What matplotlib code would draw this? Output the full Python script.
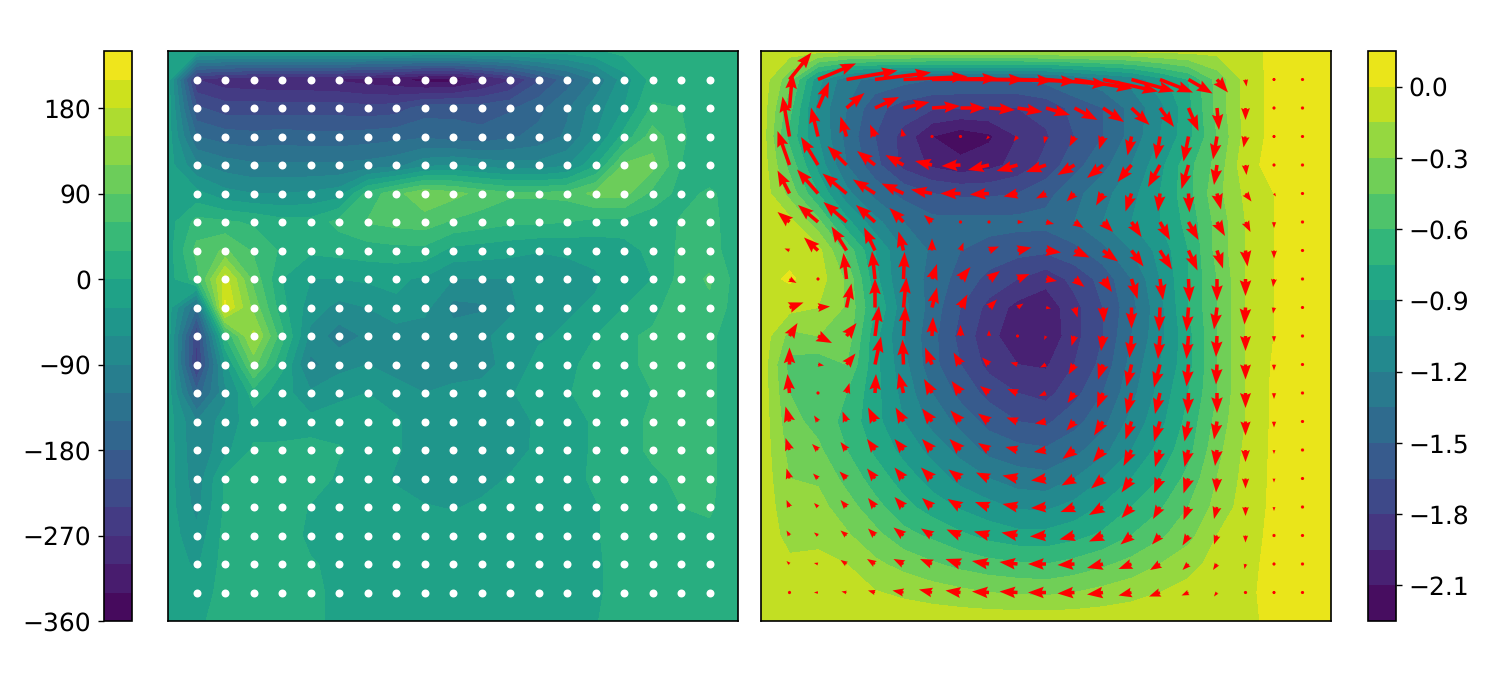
import numpy as np
import matplotlib
matplotlib.use('Agg')
import matplotlib.pyplot as plt

# left field, rows run from top to bottom
vort = [
    [-15, -15, -15, -15, -15, -15, -15, -15, -15, -15, -15, -15, -15, -15, -15, -5, 10, 12, 15, 15, 15],
    [-15, -270, -290, -295, -298, -300, -305, -315, -325, -345, -345, -310, -275, -215, -165, -115, -45, 10, 10, 10, 15],
    [-15, -205, -225, -225, -225, -225, -225, -230, -225, -195, -190, -195, -185, -160, -125, -75, -30, 35, 30, 10, 15],
    [-15, -150, -165, -170, -165, -170, -170, -165, -160, -155, -165, -170, -155, -140, -115, -60, 10, 75, 35, 10, 15],
    [-15, -85, -105, -115, -115, -115, -115, -110, -100, -70, -60, -70, -80, -80, -65, -5, 95, 100, 30, 10, 15],
    [-15, -20, -50, -60, -60, -55, -45, 40, 80, 115, 100, 80, 65, 65, 70, 100, 100, 50, 20, 35, 15],
    [-15, 40, 35, 25, 10, 10, 40, 62, 70, 75, 55, 45, 35, 35, 30, 20, 20, 10, 33, 38, 15],
    [-15, 70, 95, 55, 25, 5, 10, 15, 20, 20, -10, -15, -20, -28, -25, -20, -15, 10, 35, 40, 15],
    [-15, 45, 195, 80, 0, -30, -30, -25, -25, -35, -60, -60, -60, -55, -45, -35, -10, 0, 40, 65, 15],
    [-15, -150, 215, 110, 10, -45, -70, -60, -35, -50, -100, -95, -65, -45, -35, -25, 0, 20, 50, 52, 15],
    [-15, -240, 30, 160, 40, -70, -105, -85, -80, -80, -75, -65, -50, -35, -25, 0, 25, 35, 30, 35, 15],
    [-15, -250, -40, 100, 5, -100, -70, -60, -75, -70, -70, -70, -50, -20, -10, 15, 25, 35, 35, 35, 15],
    [-15, -170, -70, 15, -15, -55, -40, -30, -45, -60, -55, -50, -35, -5, -2, 10, 20, 30, 35, 35, 15],
    [-15, -90, -45, -15, -25, -20, -10, -5, -25, -50, -50, -50, -45, -25, -15, 5, 20, 35, 35, 35, 15],
    [-15, -85, -40, 5, 10, 15, 2, -8, -25, -50, -50, -45, -40, -25, -15, 5, 20, 35, 35, 35, 15],
    [-15, -80, 5, 15, 15, 15, -5, -10, -35, -45, -45, -40, -28, -20, -10, 5, 15, 25, 35, 35, 15],
    [-15, -70, 5, 15, 15, -2, -5, -10, -15, -28, -32, -25, -20, -15, -10, -2, 10, 20, 30, 33, 15],
    [-15, -50, 10, 15, 12, -5, -10, -15, -15, -15, -15, -15, -15, -12, -10, -2, 10, 15, 15, 25, 15],
    [-15, -35, 12, 15, 12, 2, -5, -10, -10, -10, -10, -10, -10, -10, -8, -3, 8, 12, 15, 15, 15],
    [-15, -15, 10, 15, 12, 5, -5, -8, -8, -8, -8, -8, -8, -8, -8, -3, 8, 12, 15, 15, 15],
    [-15, -5, 10, 12, 10, 5, -5, -5, -5, -5, -5, -5, -5, -5, -5, -1, 8, 10, 12, 15, 15],
]

# right field, rows run from top to bottom
psi = [
    [-0.05, -0.08, -0.1, -0.12, -0.12, -0.12, -0.12, -0.12, -0.12, -0.12, -0.12, -0.12, -0.12, -0.12, -0.1, -0.1, -0.1, -0.08, 0.05, 0.05, 0.05],
    [-0.05, -0.4, -1.0, -1.3, -1.4, -1.45, -1.5, -1.5, -1.5, -1.5, -1.45, -1.35, -1.25, -1.15, -0.95, -0.75, -0.4, -0.1, 0.05, 0.05, 0.05],
    [-0.05, -0.55, -1.1, -1.35, -1.6, -1.72, -1.78, -1.8, -1.8, -1.8, -1.75, -1.6, -1.5, -1.3, -1.1, -0.8, -0.4, -0.1, 0.05, 0.05, 0.05],
    [-0.05, -0.65, -1.05, -1.4, -1.65, -1.85, -2.1, -2.2, -2.13, -1.95, -1.82, -1.65, -1.5, -1.3, -1.05, -0.8, -0.45, -0.1, 0.05, 0.05, 0.05],
    [-0.05, -0.5, -0.95, -1.35, -1.6, -1.85, -1.98, -2.05, -2.0, -1.9, -1.75, -1.55, -1.4, -1.2, -0.95, -0.65, -0.4, -0.05, 0.05, 0.05, 0.05],
    [-0.05, -0.35, -0.75, -1.15, -1.4, -1.55, -1.65, -1.68, -1.68, -1.65, -1.55, -1.4, -1.25, -1.1, -0.9, -0.65, -0.35, -0.12, 0.0, 0.05, 0.05],
    [-0.05, -0.1, -0.4, -0.85, -1.15, -1.35, -1.45, -1.45, -1.45, -1.45, -1.45, -1.35, -1.2, -1.05, -0.9, -0.7, -0.4, -0.15, 0.0, 0.05, 0.05],
    [-0.05, -0.05, -0.1, -0.5, -0.9, -1.2, -1.38, -1.5, -1.55, -1.6, -1.62, -1.55, -1.4, -1.2, -1.0, -0.75, -0.4, -0.15, 0.0, 0.05, 0.05],
    [-0.05, 0.02, -0.07, -0.33, -0.85, -1.2, -1.42, -1.55, -1.7, -1.8, -1.9, -1.75, -1.6, -1.35, -1.05, -0.75, -0.45, -0.15, 0.0, 0.05, 0.05],
    [-0.05, -0.1, -0.15, -0.32, -0.75, -1.15, -1.42, -1.65, -1.85, -2.0, -2.05, -1.85, -1.65, -1.4, -1.1, -0.75, -0.45, -0.15, 0.0, 0.05, 0.05],
    [-0.05, -0.35, -0.3, -0.35, -0.85, -1.2, -1.45, -1.7, -1.9, -2.05, -2.08, -1.85, -1.65, -1.35, -1.1, -0.8, -0.45, -0.15, 0.0, 0.05, 0.05],
    [-0.05, -0.5, -0.55, -0.45, -0.85, -1.15, -1.45, -1.65, -1.85, -1.95, -1.97, -1.8, -1.6, -1.3, -1.05, -0.8, -0.45, -0.15, 0.02, 0.05, 0.05],
    [-0.05, -0.45, -0.55, -0.6, -0.85, -1.1, -1.35, -1.55, -1.7, -1.8, -1.85, -1.7, -1.5, -1.25, -1.0, -0.75, -0.45, -0.15, 0.03, 0.05, 0.05],
    [-0.05, -0.4, -0.5, -0.65, -0.85, -1.05, -1.25, -1.4, -1.55, -1.65, -1.68, -1.55, -1.4, -1.15, -0.95, -0.7, -0.4, -0.15, 0.03, 0.05, 0.05],
    [-0.05, -0.35, -0.42, -0.6, -0.78, -0.95, -1.1, -1.25, -1.4, -1.45, -1.48, -1.4, -1.25, -1.05, -0.85, -0.65, -0.35, -0.12, 0.03, 0.05, 0.05],
    [-0.05, -0.3, -0.32, -0.5, -0.67, -0.82, -0.97, -1.1, -1.2, -1.28, -1.3, -1.2, -1.05, -0.9, -0.75, -0.55, -0.3, -0.1, 0.03, 0.05, 0.05],
    [-0.05, -0.25, -0.25, -0.38, -0.55, -0.7, -0.82, -0.92, -1.0, -1.07, -1.08, -1.0, -0.88, -0.75, -0.62, -0.45, -0.25, -0.08, 0.03, 0.05, 0.05],
    [-0.05, -0.2, -0.18, -0.28, -0.4, -0.55, -0.63, -0.72, -0.8, -0.85, -0.85, -0.8, -0.72, -0.6, -0.48, -0.35, -0.15, -0.05, 0.03, 0.05, 0.05],
    [-0.05, -0.12, -0.12, -0.15, -0.27, -0.35, -0.43, -0.5, -0.55, -0.58, -0.6, -0.55, -0.48, -0.4, -0.3, -0.2, -0.1, -0.03, 0.03, 0.05, 0.05],
    [-0.05, -0.08, -0.1, -0.12, -0.14, -0.18, -0.22, -0.26, -0.3, -0.32, -0.33, -0.3, -0.25, -0.2, -0.15, -0.1, -0.05, -0.02, 0.03, 0.05, 0.05],
    [-0.05, -0.05, -0.05, -0.05, -0.05, -0.05, -0.05, -0.05, -0.05, -0.05, -0.05, -0.05, -0.05, -0.05, -0.05, -0.05, -0.05, -0.05, 0.05, 0.05, 0.05],
]

# arrow components, interior nodes only, top row first
u = [
    [22, 38, 51, 56, 64, 66, 64, 64, 59, 62, 58, 55, 43, 33, 24, 11, 1, 0, 0],
    [3, 11, 18, 24, 26, 28, 25, 26, 25, 24, 23, 21, 18, 14, 10, 2, 0, 0, 0],
    [-7, -7, -6, -5, -2, -1, 0, -3, -4, -2, -5, -4, -4, -4, -5, -4, -2, 0, 0],
    [-12, -17, -19, -18, -18, -17, -19, -21, -21, -20, -17, -16, -14, -12, -7, -3, 1, 0, 0],
    [-12, -21, -24, -22, -22, -21, -20, -19, -14, -10, -8, -7, -6, -2, 1, 4, 6, 2, 0],
    [-12, -20, -23, -19, -14, -8, -2, 0, 6, 8, 9, 10, 10, 10, 10, 8, 5, 0, 0],
    [-5, -14, -15, -11, -5, 0, 3, 10, 14, 15, 15, 15, 12, 12, 9, 6, 2, 0, 0],
    [7, 0, -3, -3, 1, 5, 10, 11, 12, 11, 10, 9, 6, 3, 1, 0, 0, -1, 0],
    [14, 12, 5, 0, 3, 5, 7, 8, 6, 5, 3, 1, 0, -1, -2, -3, -1, -1, 0],
    [8, 14, 10, 4, 2, 1, 0, 0, 0, -2, -3, -2, -2, -2, -2, -1, 0, 0, 0],
    [0, 6, 9, 6, -1, -7, -7, -7, -7, -6, -6, -5, -5, -6, -2, -1, 0, 0, 0],
    [-2, 0, 3, 1, -5, -8, -9, -9, -10, -7, -7, -6, -5, -5, -1, 0, 0, 0, 0],
    [-4, -4, -4, -7, -8, -10, -10, -11, -11, -11, -8, -9, -6, -6, -4, -3, 0, 0, 0],
    [-4, -6, -6, -8, -9, -10, -11, -11, -12, -12, -12, -10, -8, -5, -4, -2, 0, 0, 0],
    [-3, -5, -7, -8, -9, -11, -12, -13, -15, -15, -13, -12, -10, -6, -5, -1, 0, 0, 0],
    [-3, -4, -6, -7, -9, -10, -13, -14, -15, -15, -14, -14, -10, -7, -5, -3, 0, 0, 0],
    [-3, -4, -6, -7, -10, -11, -14, -15, -16, -16, -15, -14, -11, -8, -6, -3, 0, 0, 0],
    [-3, -4, -6, -8, -10, -12, -15, -17, -18, -18, -17, -16, -13, -10, -6, -4, -1, 0, 0],
    [-3, -4, -5, -7, -11, -13, -15, -17, -18, -18, -17, -16, -13, -11, -7, -3, 0, 0, 0],
]
v = [
    [27, 16, 9, 7, 3, 1, 0, -1, -2, -5, -9, -12, -12, -13, -14, -13, -7, 0, 0],
    [35, 26, 15, 11, 6, 2, 0, -2, -4, -7, -12, -14, -17, -19, -23, -22, -12, 0, 0],
    [40, 29, 20, 12, 8, 3, 0, -3, -5, -7, -10, -13, -19, -23, -25, -23, -11, 0, 0],
    [34, 28, 19, 14, 10, 4, -1, -5, -6, -7, -10, -13, -17, -22, -24, -20, -10, 0, 0],
    [23, 24, 20, 14, 10, 4, 0, -1, -3, -5, -8, -12, -18, -18, -19, -16, -8, -3, 0],
    [10, 17, 20, 17, 14, 7, 2, 0, 0, -2, -6, -10, -15, -18, -18, -14, -10, -6, 0],
    [2, 13, 24, 23, 19, 12, 8, 4, 3, -2, -7, -11, -16, -19, -20, -18, -16, -8, 0],
    [-4, 0, 26, 28, 27, 15, 12, 8, 5, -2, -8, -13, -20, -21, -23, -22, -17, -8, 0],
    [5, 1, 24, 29, 30, 20, 13, 8, 4, -1, -10, -15, -21, -24, -24, -22, -17, -6, 0],
    [13, -7, 13, 30, 30, 19, 11, 6, 3, -4, -10, -15, -22, -23, -23, -21, -15, -6, 0],
    [17, -1, 11, 28, 25, 17, 12, 7, 2, -3, -10, -15, -22, -23, -22, -20, -15, -6, 0],
    [19, 0, 10, 19, 20, 14, 12, 7, 4, -3, -10, -15, -21, -21, -21, -20, -15, -6, 0],
    [15, 6, 10, 14, 14, 13, 11, 8, 4, -2, -9, -14, -18, -20, -20, -18, -14, -6, 0],
    [12, 6, 8, 11, 11, 11, 11, 7, 3, -2, -9, -12, -16, -17, -17, -16, -12, -4, 0],
    [10, 5, 7, 10, 11, 11, 9, 6, 3, -2, -7, -10, -14, -15, -15, -14, -10, -4, 0],
    [7, 4, 7, 9, 10, 9, 8, 5, 3, -1, -5, -8, -11, -12, -13, -12, -9, -4, 0],
    [5, 3, 5, 7, 8, 7, 6, 4, 3, -1, -4, -6, -9, -9, -10, -9, -7, -3, 0],
    [3, 1, 4, 5, 5, 5, 5, 3, 2, 0, -1, -4, -5, -6, -6, -6, -5, 0, 0],
    [1, 0, 1, 2, 2, 3, 2, 1, 1, 0, -1, -2, -3, -4, -3, -4, 0, 0, 0],
]

vort_levels = np.arange(-360, 241, 30)
psi_levels = np.arange(-2.25, 0.16, 0.15)
vort_ticks = [-360, -270, -180, -90, 0, 90, 180]
psi_ticks = [-2.1, -1.8, -1.5, -1.2, -0.9, -0.6, -0.3, 0.0]

W, H = 1495, 680
plt.rcParams['font.size'] = 18
plt.rcParams['axes.linewidth'] = 1.2
plt.rcParams['text.hinting'] = 'no_hinting'
plt.rcParams['text.hinting_factor'] = 1


def px_axes(fig, x0, x1, y0, y1):
    return fig.add_axes([x0 / W, 1 - y1 / H, (x1 - x0) / W, (y1 - y0) / H])


fig = plt.figure(figsize=(W / 100, H / 100), dpi=100)
cax_l = px_axes(fig, 103.5, 132, 51, 621)
ax_l = px_axes(fig, 168, 738, 51, 621)
ax_r = px_axes(fig, 761, 1331, 51, 621)
cax_r = px_axes(fig, 1367.5, 1396, 51, 621)

nodes = np.arange(21)
X, Y = np.meshgrid(nodes, nodes[::-1])
inner_x, inner_y = X[1:-1, 1:-1], Y[1:-1, 1:-1]

cf_l = ax_l.contourf(X, Y, np.array(vort, dtype=float), levels=vort_levels)
ax_l.scatter(inner_x, inner_y, s=33, c='white', linewidths=0)

cf_r = ax_r.contourf(X, Y, np.array(psi), levels=psi_levels)
ax_r.quiver(inner_x, inner_y, np.array(u), np.array(v), color='red', pivot='tail',
            angles='xy', scale_units='xy', scale=28.5, units='dots', width=3.5,
            headwidth=3.3, headlength=4.5, headaxislength=4)

for ax in (ax_l, ax_r):
    ax.set_xlim(0, 20)
    ax.set_ylim(0, 20)
    ax.set_xticks([])
    ax.set_yticks([])

cb_l = fig.colorbar(cf_l, cax=cax_l, ticks=vort_ticks)
cb_l.ax.yaxis.set_ticks_position('left')
cb_r = fig.colorbar(cf_r, cax=cax_r, ticks=psi_ticks)
cb_r.ax.set_yticklabels(['\u2212%.1f' % abs(t) if t < 0 else '%.1f' % t for t in psi_ticks])

for cb in (cb_l, cb_r):
    cb.ax.tick_params(length=4.3, width=1, pad=4.5)
    cb.outline.set_linewidth(1.2)

fig.savefig('out.png', dpi=100)
